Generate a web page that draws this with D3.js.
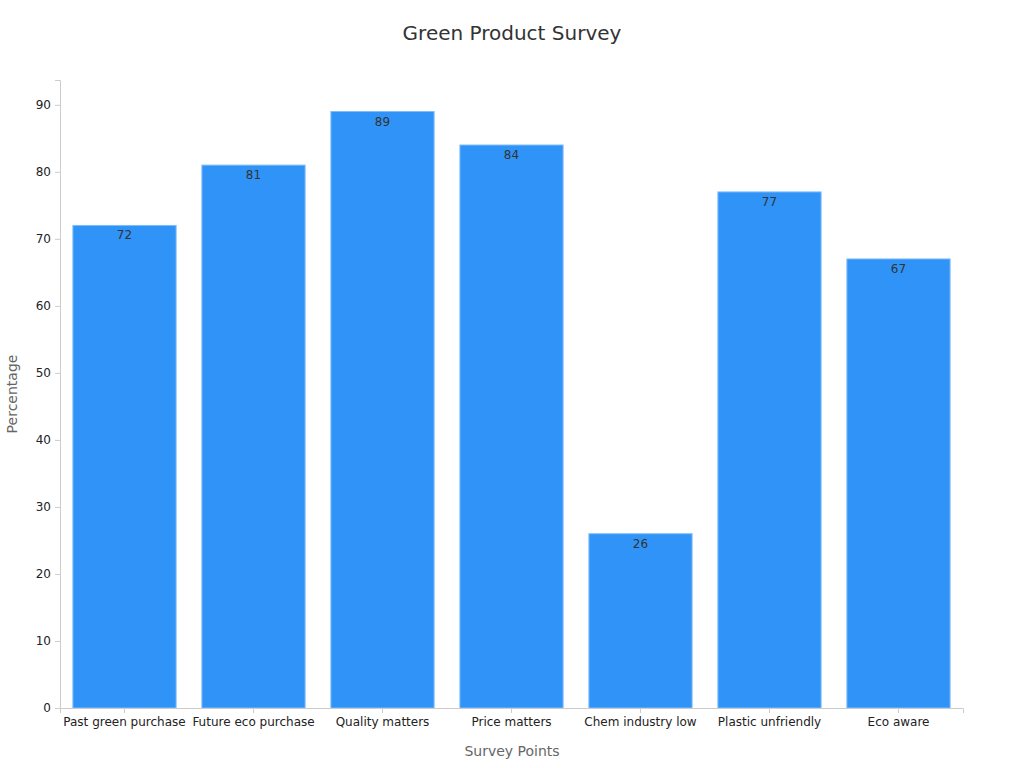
<!DOCTYPE html>
<html><head><meta charset="utf-8">
<script src="https://cdn.jsdelivr.net/npm/d3@7"></script>
<style>body{margin:0;background:#fff;font-family:"DejaVu Sans",sans-serif;}</style>
</head><body>
<svg id="c" width="1024" height="768"></svg>
<script>
const categories=["Past green purchase","Future eco purchase","Quality matters","Price matters","Chem industry low","Plastic unfriendly","Eco aware"];
const values=[72,81,89,84,26,77,67];
const yTicks=[0,10,20,30,40,50,60,70,80,90];
const svg=d3.select("#c");
const m={l:60,r:963,t:80,b:708};
const x=d3.scaleBand().domain(categories).range([m.l,m.r]).paddingInner(0.2).paddingOuter(0.1);
const y=d3.scaleLinear().domain([0,93.7]).range([m.b,m.t]);
svg.append("text").attr("x",512).attr("y",40).attr("text-anchor","middle").attr("font-size",20).attr("fill","#333").text("Green Product Survey");
svg.selectAll("rect.bar").data(values).enter().append("rect")
 .attr("x",(d,i)=>x(categories[i])).attr("width",x.bandwidth())
 .attr("y",d=>y(d)).attr("height",d=>y(0)-y(d))
 .attr("fill","#2f93f8").attr("stroke","#7fbdf9").attr("stroke-width",1);
svg.selectAll("text.v").data(values).enter().append("text")
 .attr("x",(d,i)=>x(categories[i])+x.bandwidth()/2).attr("y",d=>y(d)+14)
 .attr("text-anchor","middle").attr("font-size",12).attr("fill","#333").text(d=>d);
const ya=svg.append("g").attr("transform",`translate(${m.l},0)`).call(d3.axisLeft(y).tickValues(yTicks).tickSize(5).tickPadding(4));
const xa=svg.append("g").attr("transform",`translate(0,${m.b})`).call(d3.axisBottom(x).tickSize(5).tickPadding(4));
[ya,xa].forEach(a=>{a.selectAll("path,line").attr("stroke","#ccc");a.selectAll("text").attr("font-size",12).attr("fill","#222").attr("font-family","DejaVu Sans");});
svg.append("text").attr("x",512).attr("y",756).attr("text-anchor","middle").attr("font-size",14).attr("fill","#666").text("Survey Points");
svg.append("text").attr("transform","translate(17,394) rotate(-90)").attr("text-anchor","middle").attr("font-size",14).attr("fill","#666").text("Percentage");
</script></body></html>
